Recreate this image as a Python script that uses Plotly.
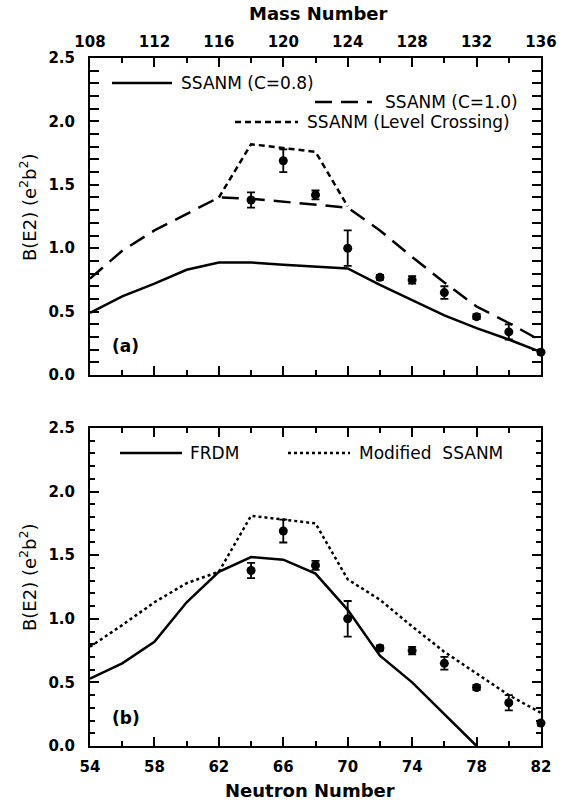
import plotly.graph_objects as go

# ---------------- data ----------------
N_exp = [64, 66, 68, 70, 72, 74, 76, 78, 80, 82]
B_exp = [1.38, 1.69, 1.42, 1.00, 0.77, 0.75, 0.65, 0.46, 0.34, 0.18]
B_err = [0.06, 0.09, 0.035, 0.14, 0.02, 0.03, 0.05, 0.02, 0.06, 0.02]

N_th = [54, 56, 58, 60, 62, 64, 66, 68, 70, 72, 74, 76, 78, 80, 82]
ssanm_c08 = [0.49, 0.62, 0.72, 0.83, 0.887, 0.887, 0.87, 0.855, 0.84, 0.71, 0.59, 0.47, 0.37, 0.28, 0.18]
ssanm_c10 = [0.76, 0.98, 1.14, 1.27, 1.40, 1.39, 1.365, 1.34, 1.32, 1.14, 0.93, 0.73, 0.54, 0.41, 0.27]

N_lc = [62, 64, 66, 68, 70]
ssanm_lc = [1.40, 1.82, 1.79, 1.76, 1.33]

N_frdm = [54, 56, 58, 60, 62, 64, 66, 68, 70, 72, 74, 76, 78]
frdm = [0.53, 0.65, 0.82, 1.13, 1.37, 1.485, 1.465, 1.355, 1.07, 0.71, 0.50, 0.25, 0.0]

mod_ssanm = [0.78, 0.95, 1.13, 1.28, 1.37, 1.81, 1.78, 1.75, 1.31, 1.15, 0.94, 0.74, 0.57, 0.40, 0.26]

x_ticks_N = [54, 58, 62, 66, 70, 74, 78, 82]
x_ticks_A = [108, 112, 116, 120, 124, 128, 132, 136]
Z = 54  # proton number: mass number A = N + Z

# ---------------- geometry helpers ----------------
W, H = 574, 807
ML, MR, MT, MB = 90, 33, 58, 61
PW, PH = W - ML - MR, H - MT - MB


def px(x):
    return (x - ML) / PW


def py(y):
    return (H - MB - y) / PH


top_dom = [py(375), 1.0]
bot_dom = [0.0, py(428)]

FONT = "DejaVu Sans"
BLACK = "#000000"
LW = 2.5
LONG = "17px,9px"
SHORT = "6px,4px"
DOT = "3px,3px"

fig = go.Figure()

# ---- panel (a) ----
fig.add_trace(go.Scatter(x=N_th, y=ssanm_c08, mode="lines", xaxis="x", yaxis="y",
                         line=dict(color=BLACK, width=LW), showlegend=False))
fig.add_trace(go.Scatter(x=N_th, y=ssanm_c10, mode="lines", xaxis="x", yaxis="y",
                         line=dict(color=BLACK, width=LW, dash=LONG), showlegend=False))
fig.add_trace(go.Scatter(x=N_lc, y=ssanm_lc, mode="lines", xaxis="x", yaxis="y",
                         line=dict(color=BLACK, width=LW, dash=SHORT), showlegend=False))
fig.add_trace(go.Scatter(x=N_exp, y=B_exp, mode="markers", xaxis="x", yaxis="y",
                         marker=dict(color=BLACK, size=9),
                         error_y=dict(type="data", array=B_err, color=BLACK, thickness=1.8, width=4),
                         cliponaxis=False, showlegend=False))
# invisible trace on the mass-number axis so that it is drawn
fig.add_trace(go.Scatter(x=[n + Z for n in N_exp], y=B_exp, mode="markers", xaxis="x3", yaxis="y",
                         marker=dict(color=BLACK, size=1, opacity=0), hoverinfo="skip",
                         showlegend=False))

# ---- panel (b) ----
fig.add_trace(go.Scatter(x=N_frdm, y=frdm, mode="lines", xaxis="x2", yaxis="y2",
                         line=dict(color=BLACK, width=LW), showlegend=False))
fig.add_trace(go.Scatter(x=N_th, y=mod_ssanm, mode="lines", xaxis="x2", yaxis="y2",
                         line=dict(color=BLACK, width=LW, dash=DOT), showlegend=False))
fig.add_trace(go.Scatter(x=N_exp, y=B_exp, mode="markers", xaxis="x2", yaxis="y2",
                         marker=dict(color=BLACK, size=9),
                         error_y=dict(type="data", array=B_err, color=BLACK, thickness=1.8, width=4),
                         cliponaxis=False, showlegend=False))

tickfont = dict(family=FONT, size=15, color=BLACK, weight="bold")

common_x = dict(range=[54, 82], tickvals=x_ticks_N, ticks="inside", ticklen=9, tickwidth=1.8,
                tickcolor=BLACK, showline=True, linecolor=BLACK, linewidth=2, mirror="allticks",
                showgrid=False, zeroline=False, tickfont=tickfont,
                minor=dict(dtick=2, ticks="inside", ticklen=5, tickwidth=1.5, tickcolor=BLACK))
common_y = dict(range=[0, 2.5], dtick=0.5, tick0=0, tickformat=".1f", ticks="inside", ticklen=9,
                tickwidth=1.8, tickcolor=BLACK, showline=True, linecolor=BLACK, linewidth=2,
                mirror="allticks", showgrid=False, zeroline=False, tickfont=tickfont,
                ticklabelstandoff=10,
                minor=dict(dtick=0.1, ticks="inside", ticklen=5, tickwidth=1.5, tickcolor=BLACK))

fig.update_layout(
    width=W, height=H,
    margin=dict(l=ML, r=MR, t=MT, b=MB),
    paper_bgcolor="white", plot_bgcolor="white",
    showlegend=False,
    xaxis=dict(common_x, anchor="y", domain=[0, 1], showticklabels=False),
    yaxis=dict(common_y, anchor="x", domain=top_dom),
    xaxis2=dict(common_x, anchor="y2", domain=[0, 1], showticklabels=True, ticklabelstandoff=6),
    yaxis2=dict(common_y, anchor="x2", domain=bot_dom),
    xaxis3=dict(range=[x_ticks_A[0], x_ticks_A[-1]], tickvals=x_ticks_A, overlaying="x", anchor="y",
                side="top", ticks="", showline=False, showgrid=False, zeroline=False,
                tickfont=tickfont, ticklabelstandoff=7),
)

annotations = []
shapes = []

# axis titles
title_font = dict(family=FONT, size=18, color=BLACK, weight="bold")
annotations.append(dict(text="Mass Number", x=px(318), y=py(13), xref="paper", yref="paper",
                        showarrow=False, font=title_font, xanchor="center", yanchor="middle"))
annotations.append(dict(text="Neutron Number", x=px(310), y=py(790), xref="paper", yref="paper",
                        showarrow=False, font=title_font, xanchor="center", yanchor="middle"))
ytitle = "B(E2) (e<sup>2</sup>b<sup>2</sup>)"
for yc in (207, 577):
    annotations.append(dict(text=ytitle, x=px(28), y=py(yc), xref="paper", yref="paper",
                            showarrow=False, textangle=-90,
                            font=dict(family=FONT, size=18, color=BLACK),
                            xanchor="center", yanchor="middle"))

# panel labels
for lab, yc in (("(a)", 346), ("(b)", 718)):
    annotations.append(dict(text=lab, x=px(110), y=py(yc), xref="paper", yref="paper",
                            showarrow=False, font=dict(family=FONT, size=17, color=BLACK, weight="bold"),
                            xanchor="left", yanchor="middle"))

# legend samples + labels
leg_font = dict(family=FONT, size=17, color=BLACK)
legend_items = [
    ("SSANM (C=0.8)", "solid", 112, 172, 83, 179),
    ("SSANM (C=1.0)", LONG, 315, 372, 102, 383),
    ("SSANM (Level Crossing)", SHORT, 235, 298, 122, 305),
    ("FRDM", "solid", 120, 182, 453, 188),
    ("Modified&nbsp; SSANM", DOT, 288, 350, 453, 357),
]
for text, dash, x0, x1, yl, xt in legend_items:
    shapes.append(dict(type="line", xref="paper", yref="paper", x0=px(x0), x1=px(x1),
                       y0=py(yl), y1=py(yl), line=dict(color=BLACK, width=LW, dash=dash)))
    annotations.append(dict(text=text, x=px(xt), y=py(yl), xref="paper", yref="paper",
                            showarrow=False, font=leg_font, xanchor="left", yanchor="middle"))

fig.update_layout(annotations=annotations, shapes=shapes)

fig.write_html("out.html")
